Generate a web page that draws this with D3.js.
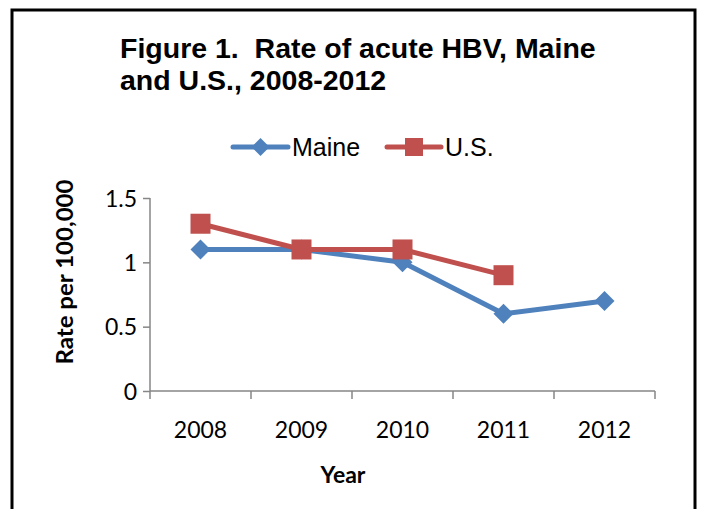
<!DOCTYPE html>
<html><head><meta charset="utf-8">
<script src="https://cdn.jsdelivr.net/npm/d3@7"></script>
<style>html,body{margin:0;padding:0;background:#fff}svg{display:block}text.ttl{white-space:pre}</style>
</head><body>
<svg id="c" width="704" height="509"></svg>
<script>
const years = ["2008","2009","2010","2011","2012"];
const maine = [1.1, 1.1, 1.0, 0.6, 0.7];
const us = [1.3, 1.1, 1.1, 0.9, null];
const yTicks = [0, 0.5, 1, 1.5];
const titleLines = ["Figure 1.  Rate of acute HBV, Maine", "and U.S., 2008-2012"];
const seriesNames = ["Maine", "U.S."];

const svg = d3.select("#c");
const blue = "#4F81BD", red = "#C0504D", axisCol = "#868686";

svg.append("rect").attr("x",12).attr("y",10).attr("width",683).attr("height",530)
  .attr("fill","none").attr("stroke","#000").attr("stroke-width",3);

const x = d3.scaleBand().domain(years).range([150,655]);
const y = d3.scaleLinear().domain([0,1.5]).range([391,198]);

// title
titleLines.forEach((t,i)=>{
  svg.append("text").attr("class","ttl").attr("x",120).attr("y",58+i*32)
    .attr("font-family","Liberation Sans, Arial, sans-serif").attr("font-weight","bold")
    .attr("font-size",28.5).attr("fill","#000").text(t);
});

// axes
const ya = svg.append("g").attr("transform","translate(150,0)")
  .call(d3.axisLeft(y).tickValues(yTicks).tickSize(7).tickPadding(6).tickFormat(d=>String(d)));
ya.select(".domain").attr("stroke",axisCol).attr("stroke-width",1.5).attr("d","M0,198V391");
ya.selectAll(".tick line").attr("stroke",axisCol).attr("stroke-width",1.5);
ya.selectAll("text").attr("font-family","Lato, Carlito, sans-serif").attr("font-size",23).attr("fill","#000").attr("dy","0.35em");

const xa = svg.append("g").attr("transform","translate(0,391)");
xa.append("line").attr("x1",150).attr("x2",655).attr("stroke",axisCol).attr("stroke-width",1.5);
const bounds = years.map(d=>x(d)).concat([x.range()[1]]);
xa.selectAll("line.t").data(bounds).join("line").attr("class","t")
  .attr("x1",d=>d).attr("x2",d=>d).attr("y1",0).attr("y2",8).attr("stroke",axisCol).attr("stroke-width",1.5);
xa.selectAll("text").data(years).join("text")
  .attr("x",d=>x(d)+x.bandwidth()/2).attr("y",47).attr("text-anchor","middle")
  .attr("font-family","Lato, Carlito, sans-serif").attr("font-size",23).attr("fill","#000").text(d=>d);

// axis titles
svg.append("text").attr("transform","translate(73,272) rotate(-90)").attr("text-anchor","middle")
  .attr("font-family","Lato, Carlito, sans-serif").attr("font-weight","bold").attr("font-size",23)
  .attr("textLength",185).attr("lengthAdjust","spacingAndGlyphs")
  .attr("fill","#000").text("Rate per 100,000");
svg.append("text").attr("x",343).attr("y",483).attr("text-anchor","middle")
  .attr("font-family","Lato, Carlito, sans-serif").attr("font-weight","bold").attr("font-size",23)
  .attr("fill","#000").text("Year");

// lines
const cx = d=>x(d)+x.bandwidth()/2;
const line = d3.line().defined(d=>d.v!=null).x(d=>cx(d.k)).y(d=>y(d.v));
const mData = years.map((k,i)=>({k,v:maine[i]}));
const uData = years.map((k,i)=>({k,v:us[i]}));
function diamondPath(s){ return `M0,${-s}L${s},0L0,${s}L${-s},0Z`; }

svg.append("path").datum(mData).attr("d",line).attr("fill","none").attr("stroke",blue).attr("stroke-width",5).attr("stroke-linejoin","round");
svg.append("path").datum(uData).attr("d",line).attr("fill","none").attr("stroke",red).attr("stroke-width",5).attr("stroke-linejoin","round");

svg.selectAll("path.md").data(mData.filter(d=>d.v!=null)).join("path").attr("class","md")
  .attr("transform",d=>`translate(${cx(d.k)},${y(d.v)})`).attr("d",diamondPath(10)).attr("fill",blue);
svg.selectAll("rect.us").data(uData.filter(d=>d.v!=null)).join("rect").attr("class","us")
  .attr("x",d=>cx(d.k)-10).attr("y",d=>y(d.v)-10).attr("width",20).attr("height",20).attr("fill",red);

// legend
const leg = [{n:seriesNames[0],c:blue,x1:233,x2:288,t:292,m:"d"},{n:seriesNames[1],c:red,x1:387,x2:441,t:445,m:"s"}];
leg.forEach(l=>{
  svg.append("line").attr("x1",l.x1).attr("x2",l.x2).attr("y1",147).attr("y2",147)
    .attr("stroke",l.c).attr("stroke-width",5).attr("stroke-linecap","round");
  const mx=(l.x1+l.x2)/2;
  if(l.m==="d") svg.append("path").attr("transform",`translate(${mx},147)`).attr("d",diamondPath(9)).attr("fill",l.c);
  else svg.append("rect").attr("x",mx-9).attr("y",138).attr("width",18).attr("height",18).attr("fill",l.c);
  svg.append("text").attr("x",l.t).attr("y",156).attr("font-family","Liberation Sans, Arial, sans-serif")
    .attr("font-size",25).attr("fill","#000").text(l.n);
});
</script>
</body></html>
